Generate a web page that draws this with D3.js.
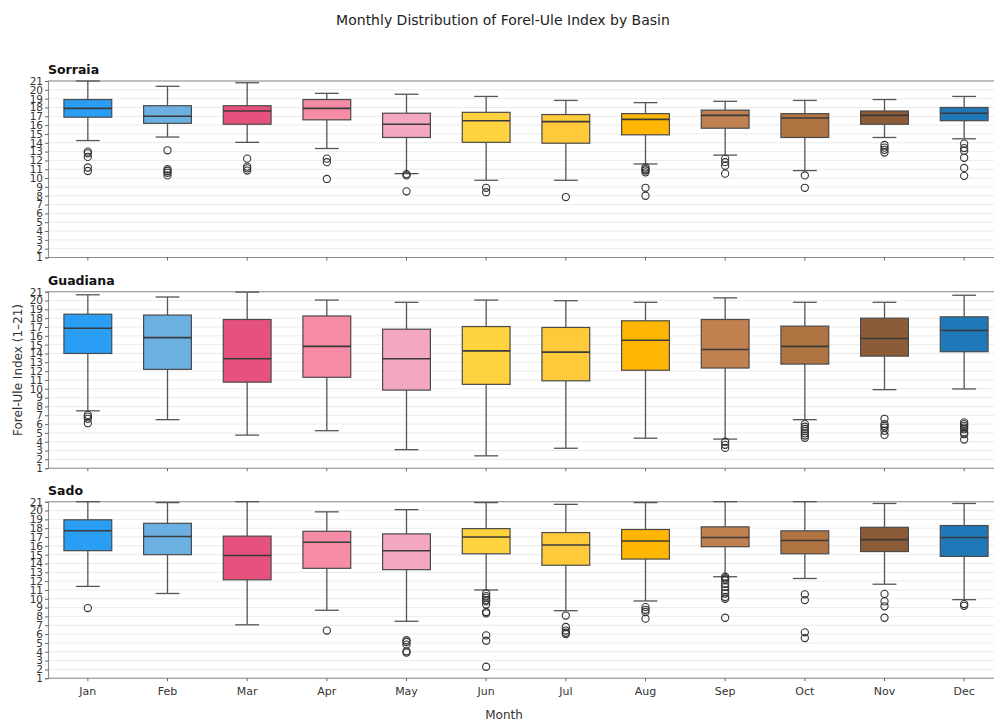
<!DOCTYPE html>
<html>
<head>
<meta charset="utf-8">
<script src="https://cdn.jsdelivr.net/npm/d3@7"></script>
<style>
  body { margin: 0; background: #fff; }
  svg { display: block; font-family: "DejaVu Sans", sans-serif; }
</style>
</head>
<body>
<svg id="chart" width="994" height="721"></svg>
<script>
// Months on the x axis
const months = ["Jan","Feb","Mar","Apr","May","Jun","Jul","Aug","Sep","Oct","Nov","Dec"];
const basins = ["Sorraia","Guadiana","Sado"];
const yTicks = d3.range(1, 22);

// Box statistics per month: [lower whisker, Q1, median, Q3, upper whisker]
const sorraiaStats = [
  [14.25,16.9,17.9,18.9,21.0],[14.65,16.2,17.0,18.2,20.4],[14.05,16.1,17.6,18.2,20.8],
  [13.35,16.6,17.9,18.9,19.6],[10.5,14.6,16.1,17.35,19.5],[9.75,14.05,16.5,17.45,19.25],
  [9.75,13.95,16.4,17.2,18.8],[11.6,14.9,16.65,17.3,18.55],[12.6,15.65,17.1,17.7,18.7],
  [10.85,14.6,16.8,17.3,18.8],[14.6,16.1,17.1,17.6,18.9],[14.45,16.5,17.35,18.0,19.25]
];
const sorraiaOutliers = [
  [13.0,12.8,12.4,11.2,10.8],[13.15,11.0,10.8,10.6,10.3],[12.2,11.3,11.1,10.85],
  [12.2,11.8,9.9],[10.45,10.3,8.5],[8.9,8.4],[7.85],[11.2,11.0,10.85,10.65,8.9,8.0],
  [12.2,11.8,11.4,10.5],[10.3,8.9],[13.75,13.45,13.2,12.9],[13.9,13.4,13.1,12.3,11.15,10.25]
];

const guadianaStats = [
  [7.5,14.0,16.85,18.45,20.65],[6.5,12.2,15.8,18.35,20.4],[4.75,10.75,13.4,17.85,20.95],
  [5.25,11.3,14.8,18.25,20.05],[3.1,9.85,13.4,16.75,19.8],[2.4,10.5,14.3,17.05,20.05],
  [3.26,10.9,14.15,16.95,19.98],[4.4,12.1,15.5,17.7,19.8],[4.3,12.35,14.45,17.85,20.3],
  [6.5,12.8,14.8,17.1,19.8],[9.9,13.7,15.7,18.0,19.8],[9.98,14.2,16.6,18.15,20.6]
];
const guadianaOutliers = [
  [7.04,6.85,6.6,6.1],[],[],[],[],[],[],[],[4.0,3.65,3.3],
  [6.0,5.7,5.45,5.2,4.95,4.7,4.45],[6.6,6.0,5.8,5.6,5.25,4.77],
  [6.2,6.0,5.8,5.6,5.4,5.05,4.85,4.25]
];

const sadoStats = [
  [11.4,15.45,17.7,18.95,21.0],[10.6,15.0,17.05,18.55,20.9],[7.05,12.15,14.9,17.1,21.0],
  [8.7,13.45,16.4,17.65,19.85],[7.45,13.3,15.45,17.35,20.1],[11.0,15.1,17.0,17.95,20.9],
  [8.65,13.8,16.1,17.5,20.7],[9.75,14.5,16.55,17.85,20.9],[12.5,15.9,16.95,18.15,21.0],
  [12.3,15.1,16.6,17.7,21.0],[11.65,15.35,16.7,18.1,20.8],[9.9,14.8,16.95,18.3,20.8]
];
const sadoOutliers = [
  [8.95],[],[],[6.4],[5.3,5.1,4.8,4.05,3.9],
  [10.6,10.3,10.1,9.85,9.7,9.35,8.5,8.35,5.85,5.25,2.3],
  [8.1,6.8,6.4,6.15,6.0],[9.05,8.75,8.5,7.75],
  [12.5,12.3,12.1,11.7,11.35,10.95,10.6,10.2,10.0,7.85],
  [10.5,9.85,6.2,5.55],[10.55,9.7,9.15,7.85],[9.4,9.2]
];

const monthColors = ["#2A9DF4","#6CB0E2","#E5527D","#F68CA6","#F4A7C1","#FFD23F",
                     "#FFC93C","#FFB703","#C08050","#B07442","#8C5C38","#1F78B8"];

const panels = [
  { name: basins[0], stats: sorraiaStats, outliers: sorraiaOutliers, top: 81 },
  { name: basins[1], stats: guadianaStats, outliers: guadianaOutliers, top: 291.7 },
  { name: basins[2], stats: sadoStats, outliers: sadoOutliers, top: 501.7 }
];

const svg = d3.select("#chart");
const left = 48, right = 1004, panelH = 176.5;

const x = d3.scaleBand().domain(months).range([left, right]).paddingInner(0).paddingOuter(0);
const boxW = x.bandwidth() * 0.6;
const capW = boxW * 0.5;

svg.append("text")
  .attr("x", 503).attr("y", 25)
  .attr("text-anchor", "middle")
  .attr("font-size", 14).attr("fill", "#222")
  .text("Monthly Distribution of Forel-Ule Index by Basin");

panels.forEach((p, pi) => {
  const y = d3.scaleLinear().domain([1, 21]).range([p.top + panelH, p.top]);
  const g = svg.append("g");

  // horizontal grid
  g.selectAll("line.grid").data(yTicks).join("line")
    .attr("x1", left).attr("x2", right)
    .attr("y1", d => y(d)).attr("y2", d => y(d))
    .attr("stroke", "#e6e6e6").attr("stroke-width", 0.8);

  // frame lines
  g.append("line").attr("x1", left).attr("x2", right)
    .attr("y1", p.top).attr("y2", p.top).attr("stroke", "#8a8a8a").attr("stroke-width", 1.1);
  g.append("line").attr("x1", left).attr("x2", right)
    .attr("y1", p.top + panelH).attr("y2", p.top + panelH).attr("stroke", "#8a8a8a").attr("stroke-width", 1.1);

  // y axis
  const yAxis = g.append("g").attr("transform", `translate(${left},0)`)
    .call(d3.axisLeft(y).tickValues(yTicks).tickFormat(d3.format("d")).tickSize(3).tickPadding(2));
  yAxis.select(".domain").attr("stroke", "#8a8a8a").attr("stroke-width", 1.1);
  yAxis.selectAll(".tick line").attr("stroke", "#666");
  yAxis.selectAll(".tick text").attr("font-size", 10.5).attr("fill", "#333")
    .attr("font-family", "DejaVu Sans");

  // x axis ticks
  const xAxis = g.append("g").attr("transform", `translate(0,${p.top + panelH})`)
    .call(d3.axisBottom(x).tickSize(3).tickPadding(6).tickFormat(pi === 2 ? (d => d) : () => ""));
  xAxis.select(".domain").remove();
  xAxis.selectAll(".tick line").attr("stroke", "#666");
  xAxis.selectAll(".tick text").attr("font-size", 11).attr("fill", "#333")
    .attr("font-family", "DejaVu Sans");

  // panel title
  svg.append("text").attr("x", left).attr("y", p.top - 7)
    .attr("font-size", 12.5).attr("font-weight", "bold").attr("fill", "#111")
    .text(p.name);

  months.forEach((m, i) => {
    const [lo, q1, med, q3, hi] = p.stats[i];
    const cx = x(m) + x.bandwidth() / 2;
    const mg = g.append("g");
    // whiskers
    mg.append("line").attr("x1", cx).attr("x2", cx).attr("y1", y(q3)).attr("y2", y(hi))
      .attr("stroke", "#555").attr("stroke-width", 1.3);
    mg.append("line").attr("x1", cx).attr("x2", cx).attr("y1", y(q1)).attr("y2", y(lo))
      .attr("stroke", "#555").attr("stroke-width", 1.3);
    mg.append("line").attr("x1", cx - capW / 2).attr("x2", cx + capW / 2).attr("y1", y(hi)).attr("y2", y(hi))
      .attr("stroke", "#555").attr("stroke-width", 1.3);
    mg.append("line").attr("x1", cx - capW / 2).attr("x2", cx + capW / 2).attr("y1", y(lo)).attr("y2", y(lo))
      .attr("stroke", "#555").attr("stroke-width", 1.3);
    // box
    mg.append("rect").attr("x", cx - boxW / 2).attr("width", boxW)
      .attr("y", y(q3)).attr("height", y(q1) - y(q3))
      .attr("fill", monthColors[i]).attr("stroke", "#4a4a4a").attr("stroke-width", 1.2);
    // median
    mg.append("line").attr("x1", cx - boxW / 2).attr("x2", cx + boxW / 2)
      .attr("y1", y(med)).attr("y2", y(med))
      .attr("stroke", "#3a3a3a").attr("stroke-width", 1.6);
    // outliers
    mg.selectAll("circle").data(p.outliers[i]).join("circle")
      .attr("cx", cx).attr("cy", d => y(d)).attr("r", 3.6)
      .attr("fill", "none").attr("stroke", "#333").attr("stroke-width", 1.1);
  });
});

svg.append("text")
  .attr("transform", "translate(22,370) rotate(-90)")
  .attr("text-anchor", "middle").attr("font-size", 12).attr("fill", "#333")
  .text("Forel-Ule Index (1–21)");

svg.append("text")
  .attr("x", 504).attr("y", 719)
  .attr("text-anchor", "middle").attr("font-size", 12).attr("fill", "#333")
  .text("Month");
</script>
</body>
</html>
